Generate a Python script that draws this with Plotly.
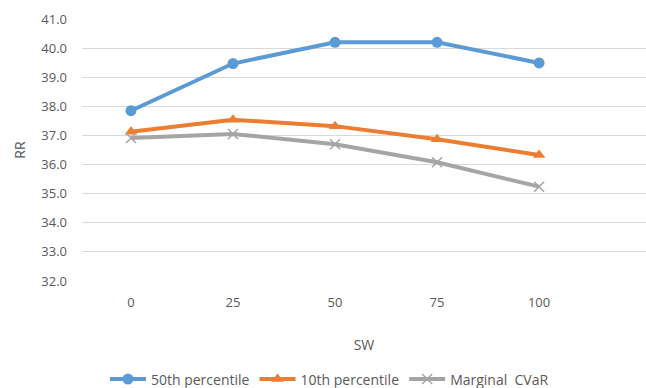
import plotly.graph_objects as go

# Sweep of SW weight and resulting RR for each objective
sw = [0, 25, 50, 75, 100]
p50 = [37.85, 39.47, 40.2, 40.2, 39.49]
p10 = [37.13, 37.54, 37.32, 36.87, 36.33]
cvar = [36.91, 37.05, 36.7, 36.08, 35.24]
y_ticks = [32, 33, 34, 35, 36, 37, 38, 39, 40, 41]

TXT = "#595959"
FONT = "Open Sans, Liberation Sans, sans-serif"

fig = go.Figure()
fig.add_trace(go.Scatter(
    x=sw, y=p50, name="50th percentile", mode="lines+markers",
    line=dict(color="#5B9BD5", width=4),
    marker=dict(symbol="circle", size=11, color="#5B9BD5"),
))
fig.add_trace(go.Scatter(
    x=sw, y=p10, name="10th percentile", mode="lines+markers",
    line=dict(color="#ED7D31", width=4),
    marker=dict(symbol="triangle-up", size=11, color="#ED7D31"),
))
fig.add_trace(go.Scatter(
    x=sw, y=cvar, name="Marginal  CVaR", mode="lines+markers",
    line=dict(color="#A5A5A5", width=4),
    marker=dict(symbol="x-thin", size=10, color="#A5A5A5",
                line=dict(color="#A5A5A5", width=1.5)),
))

fig.update_layout(
    width=646, height=388,
    margin=dict(l=82, r=0, t=19, b=107),
    paper_bgcolor="white", plot_bgcolor="white",
    font=dict(family=FONT, size=13, color=TXT),
    showlegend=True,
    legend=dict(orientation="h", xref="container", x=0.51, xanchor="center",
                yref="container", y=0.022, yanchor="middle",
                font=dict(size=14, color=TXT), itemwidth=36,
                tracegroupgap=0),
    xaxis=dict(
        range=[-12, 126.2], tickmode="array", tickvals=sw,
        ticktext=[str(v) for v in sw], showgrid=False, zeroline=False,
        showline=False, ticks="", ticklabelstandoff=12,
        title=dict(text="SW", standoff=30, font=dict(size=14, color=TXT)),
    ),
    yaxis=dict(
        range=[32, 41], tickmode="array", tickvals=y_ticks,
        ticktext=[f"{v:.1f}" for v in y_ticks],
        showgrid=True, gridcolor="#D9D9D9", gridwidth=1.2, zeroline=False,
        showline=False, ticks="", ticklabelstandoff=14,
        title=dict(text="RR", standoff=12, font=dict(size=14, color=TXT)),
    ),
)

fig.write_html("out.html")
